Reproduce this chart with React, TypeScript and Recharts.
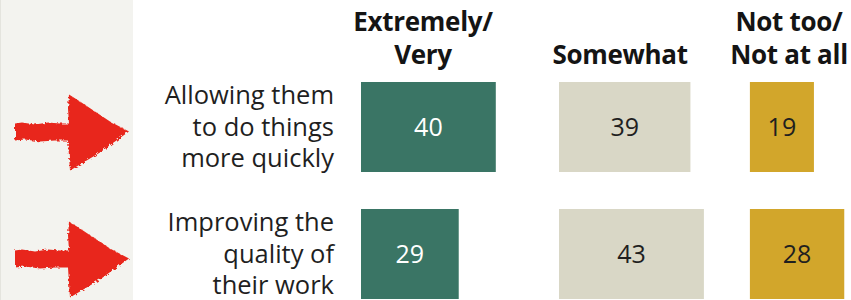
import React from 'react';
import { BarChart, Bar, XAxis, YAxis, LabelList } from 'recharts';

// ---- data ----
const categories = ['Allowing them to do things more quickly', 'Improving the quality of their work'];
const categoryLines = [
  ['Allowing them', 'to do things', 'more quickly'],
  ['Improving the', 'quality of', 'their work'],
];
const extremelyVery = [40, 29];
const somewhat = [39, 43];
const notTooNotAtAll = [19, 28];
const headerLines = [['Extremely/', 'Very'], ['Somewhat'], ['Not too/', 'Not at all']];

// ---- layout constants ----
const W = 851;
const H = 300;
const PLOT_LEFT = 361;
const X_MAX = 145.4; // units across the plot width
const COL2_START = 58.75;
const COL3_START = 115.4;
const HEADER_CENTERS = [423, 620, 789];
const LABEL_RIGHT = 334;
const FONT = "'Open Sans', 'Noto Sans', sans-serif";

const GREEN = '#3a7565';
const BEIGE = '#d9d7c6';
const GOLD = '#d2a62b';
const TEXT = '#1f1f1f';

const data = categories.map((name, i) => ({
  name,
  ext: extremelyVery[i],
  gap1: COL2_START - extremelyVery[i],
  some: somewhat[i],
  gap2: COL3_START - COL2_START - somewhat[i],
  not: notTooNotAtAll[i],
}));

const arrowPath =
  'M15,-3 L22,-4 L35,-2 L48,-4 L60,-3 L69,-3 L68,-18 L69,-32 L80,-25 L95,-15 L110,-5 L129,5 L115,15 L100,26 L85,35 L70,44 L69,30 L68,14 L55,14 L40,15 L25,13 L15,14 Z';

const RowTick = (props: any) => {
  const { y, index } = props;
  const lines = categoryLines[index] || [];
  const offs = [-22.5, 9.5, 40.5];
  return (
    <g>
      <defs>
        <filter id={`rough${index}`} x="-10%" y="-10%" width="120%" height="120%">
          <feTurbulence type="fractalNoise" baseFrequency="0.35" numOctaves="2" seed={index + 3} />
          <feDisplacementMap in="SourceGraphic" scale="4" />
        </filter>
      </defs>
      <path d={arrowPath} transform={`translate(0, ${y})`} fill="#e8261b" filter={`url(#rough${index})`} />
      {lines.map((l, k) => (
        <text
          key={k}
          x={LABEL_RIGHT}
          y={y + offs[k]}
          textAnchor="end"
          fontFamily={FONT}
          fontSize={25.5}
          fill={TEXT}
        >
          {l}
        </text>
      ))}
    </g>
  );
};

export default function App() {
  return (
    <div style={{ position: 'absolute', left: 0, top: 0, width: W, height: H, overflow: 'hidden', background: '#fff' }}>
      <div style={{ position: 'absolute', left: 0, top: 0, width: 133, height: H, background: '#f3f3ef', borderLeft: '1px solid #e4e4de', boxSizing: 'border-box' }} />
      {headerLines.map((lines, i) => (
        <div key={i}>
          {lines.map((l, k) => {
            const baseline = lines.length === 1 ? 64 : k === 0 ? 31 : 64;
            return (
              <div
                key={k}
                style={{
                  position: 'absolute',
                  left: HEADER_CENTERS[i] - 100,
                  width: 200,
                  top: baseline - 26,
                  textAlign: 'center',
                  fontFamily: FONT,
                  fontWeight: 700,
                  fontSize: 26,
                  lineHeight: '32px',
                  color: '#141414',
                  whiteSpace: 'nowrap',
                  letterSpacing: '-0.3px',
                }}
              >
                {l}
              </div>
            );
          })}
        </div>
      ))}
      <div style={{ position: 'absolute', left: 0, top: 0 }}>
        <BarChart
          width={W}
          height={317}
          data={data}
          layout="vertical"
          margin={{ top: 63, right: 0, bottom: 0, left: 0 }}
          barSize={90}
        >
          <XAxis type="number" domain={[0, X_MAX]} hide allowDataOverflow />
          <YAxis
            type="category"
            dataKey="name"
            width={PLOT_LEFT}
            axisLine={false}
            tickLine={false}
            tick={(p: any) => <RowTick {...p} />}
            interval={0}
          />
          <Bar dataKey="ext" stackId="a" fill={GREEN} isAnimationActive={false}>
            <LabelList dataKey="ext" position="center" fill="#ffffff" fontSize={25} fontFamily={FONT} />
          </Bar>
          <Bar dataKey="gap1" stackId="a" fill="transparent" isAnimationActive={false} />
          <Bar dataKey="some" stackId="a" fill={BEIGE} isAnimationActive={false}>
            <LabelList dataKey="some" position="center" fill={TEXT} fontSize={25} fontFamily={FONT} />
          </Bar>
          <Bar dataKey="gap2" stackId="a" fill="transparent" isAnimationActive={false} />
          <Bar dataKey="not" stackId="a" fill={GOLD} isAnimationActive={false}>
            <LabelList dataKey="not" position="center" fill={TEXT} fontSize={25} fontFamily={FONT} />
          </Bar>
        </BarChart>
      </div>
    </div>
  );
}
